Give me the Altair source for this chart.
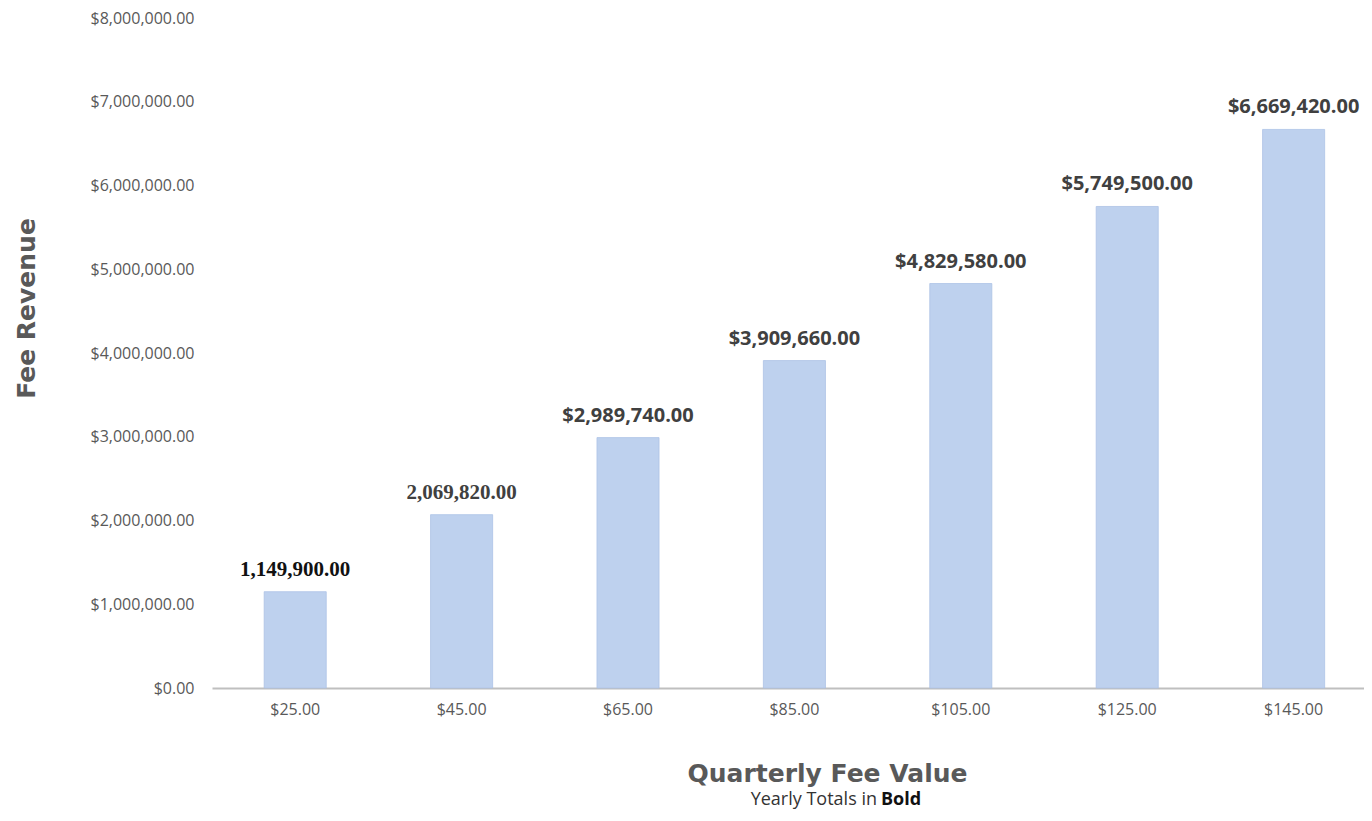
import altair as alt
import pandas as pd

fees = ["$25.00", "$45.00", "$65.00", "$85.00", "$105.00", "$125.00", "$145.00"]
revenue = [1149900, 2069820, 2989740, 3909660, 4829580, 5749500, 6669420]
value_labels = ["1,149,900.00", "2,069,820.00", "$2,989,740.00", "$3,909,660.00",
                "$4,829,580.00", "$5,749,500.00", "$6,669,420.00"]
serif_labels = ["$25.00", "$45.00"]
y_ticks = [0, 1000000, 2000000, 3000000, 4000000, 5000000, 6000000, 7000000, 8000000]

df = pd.DataFrame({"fee": fees, "revenue": revenue, "label": value_labels})

x = alt.X("fee:N", sort=fees,
          scale=alt.Scale(paddingInner=0.627, paddingOuter=0.275, align=0.57),
          axis=alt.Axis(title="Quarterly Fee Value", labelAngle=0, labelFont="Open Sans",
                        labelFontSize=16, labelColor="#595959", labelPadding=13,
                        ticks=False, domainColor="#bfbfbf", domainWidth=2,
                        titleFont="DejaVu Sans", titleFontSize=25, titleFontWeight="bold",
                        titleColor="#595959", titleX=615, titleY=85,
                        titleAlign="center", titleBaseline="middle"))
y = alt.Y("revenue:Q", scale=alt.Scale(domain=[0, 8000000]),
          axis=alt.Axis(title="Fee Revenue", values=y_ticks, format="$,.2f",
                        labelFont="Open Sans", labelFontSize=16, labelColor="#595959",
                        labelPadding=18, ticks=False, domain=False, grid=False,
                        titleFont="DejaVu Sans", titleFontSize=25, titleFontWeight="bold",
                        titleColor="#595959", titleX=-186, titleY=290,
                        titleAlign="center", titleBaseline="middle", titleAngle=270))

base = alt.Chart(df)

bars = base.mark_bar(color="#bed1ee", stroke="#adc3e6", strokeWidth=0.8).encode(x=x, y=y)

serif_text = base.transform_filter(
    alt.FieldOneOfPredicate(field="fee", oneOf=serif_labels)
).mark_text(font="Liberation Serif", fontWeight="bold", fontSize=21,
            baseline="bottom", dy=-12).encode(
    x=alt.X("fee:N", sort=fees), y="revenue:Q", text="label:N",
    color=alt.Color("fee:N", scale=alt.Scale(domain=serif_labels, range=["#111111", "#404040"]),
                    legend=None))

sans_text = base.transform_filter(
    ~alt.FieldOneOfPredicate(field="fee", oneOf=serif_labels)
).mark_text(font="Open Sans", fontWeight="bold", fontSize=20, color="#404040",
            baseline="bottom", dy=-12).encode(
    x=alt.X("fee:N", sort=fees), y="revenue:Q", text="label:N")

sub1 = alt.Chart(pd.DataFrame({"t": ["Yearly Totals in"]})).mark_text(
    font="Open Sans", fontSize=18, color="#333333", align="right", baseline="alphabetic"
).encode(x=alt.value(665), y=alt.value(787), text="t:N")
sub2 = alt.Chart(pd.DataFrame({"t": ["Bold"]})).mark_text(
    font="Open Sans", fontSize=18, fontWeight="bold", color="#111111", align="left",
    baseline="alphabetic"
).encode(x=alt.value(669), y=alt.value(787), text="t:N")

chart = alt.layer(bars, serif_text, sans_text, sub1, sub2).resolve_scale(color="independent").properties(
    width=1152, height=670,
    background="white",
    autosize=alt.AutoSizeParams(type="none"),
    padding={"left": 204, "top": 10, "right": 0, "bottom": 125},
).configure_view(strokeWidth=0, stroke="transparent")

chart.save("out.html", embed_options={"renderer": "svg", "actions": False})
